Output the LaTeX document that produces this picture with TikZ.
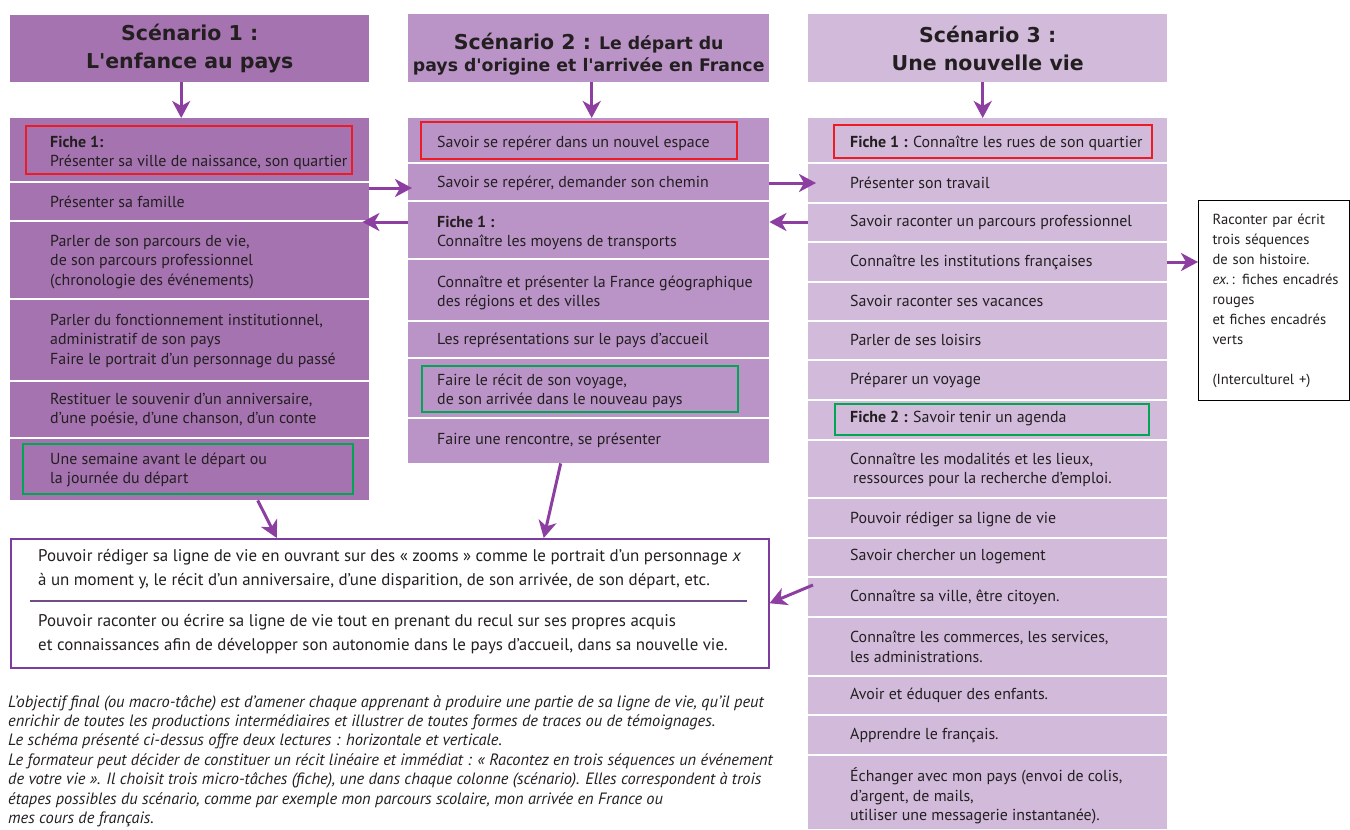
\documentclass[tikz,border=0pt]{standalone}
\usepackage{fontspec}
\setmainfont{PT Sans}
\newfontfamily\titlefont{DejaVu Sans}
\usetikzlibrary{positioning,arrows.meta}

\definecolor{colA}{HTML}{A573B0}
\definecolor{colB}{HTML}{BA94C7}
\definecolor{colC}{HTML}{D2BADB}
\definecolor{arrowpurple}{HTML}{8C3FA0}
\definecolor{framered}{HTML}{ED1C24}
\definecolor{framegreen}{HTML}{00A651}
\definecolor{boxpurple}{HTML}{7D3C9E}
\definecolor{dividergray}{HTML}{6E4D8A}
\definecolor{txtgray}{HTML}{231F20}

\begin{document}
\begin{tikzpicture}[x=1pt,y=-1pt,
  headbox/.style={anchor=north west,inner sep=0pt,align=center,text=txtgray,font=\titlefont\bfseries\fontsize{20.5}{28}\selectfont},
  colbody/.style={anchor=north west,inner sep=0pt},
  txt/.style={anchor=west,align=left,inner sep=0pt,text=txtgray,font=\fontsize{15.9}{19.5}\selectfont},
  rowsep/.style={white,line width=1.8pt},
  arr/.style={arrowpurple,line width=3pt,-{Stealth[length=17pt,width=18pt,inset=5pt]}},
  redbox/.style={draw=framered,line width=1.3pt},
  greenbox/.style={draw=framegreen,line width=1.3pt}]

\useasboundingbox (0,0) rectangle (1350,830);

% headers
\node[headbox,fill=colA,minimum width=359,minimum height=67] (h1) at (10,15) {Scénario 1 :\\L'enfance au pays};
\node[headbox,fill=colB,minimum width=361,minimum height=68,font=\titlefont\bfseries\fontsize{17.3}{22}\selectfont] (h2) at (408,14)
  {\rule{0pt}{28pt}{\fontsize{20.5}{22}\selectfont Scénario 2 :} Le départ du\\pays d'origine et l'arrivée en France};
\node[headbox,fill=colC,minimum width=359,minimum height=68] (h3) at (808,14) {Scénario 3 :\\Une nouvelle vie};

% columns
\node[colbody,fill=colA,minimum width=359,minimum height=382] (b1) at (10,118) {};
\node[colbody,fill=colB,minimum width=361,minimum height=345] (b2) at (408,118) {};
\node[colbody,fill=colC,minimum width=359,minimum height=711] (b3) at (808,118) {};

\foreach \y in {182,221,299,381,438}
  \draw[rowsep] (10,\y) -- (369,\y);
\foreach \y in {163,201,259,321,358,418}
  \draw[rowsep] (408,\y) -- (769,\y);
\foreach \y in {163,203,242,282,321,360,400,440,498,538,577,617,676,715,755}
  \draw[rowsep] (808,\y) -- (1167,\y);

% fiches
\draw[redbox] (26,126) rectangle (352,174);
\draw[greenbox] (23,444) rectangle (353,494);
\draw[redbox] (421,122) rectangle (737,159);
\draw[greenbox] (422,366) rectangle (738,412);
\draw[redbox] (834,125) rectangle (1152,158);
\draw[greenbox] (835,404) rectangle (1149,435);

% scenario 1
\node[txt] (t11) at (50,153) {\textbf{Fiche 1:}\\Présenter sa ville de naissance, son quartier};
\node[txt] (t12) at (50,202) {Présenter sa famille};
\node[txt] (t13) at (50,262) {Parler de son parcours de vie,\\de son parcours professionnel\\(chronologie des événements)};
\node[txt] (t14) at (50,341) {Parler du fonctionnement institutionnel,\\administratif de son pays\\Faire le portrait d’un personnage du passé};
\node[txt] (t15) at (50,410) {Restituer le souvenir d’un anniversaire,\\d’une poésie, d’une chanson, d’un conte};
\node[txt] (t16) at (50,470) {Une semaine avant le départ ou\\la journée du départ};

% scenario 2
\node[txt] (t21) at (437,143) {Savoir se repérer dans un nouvel espace};
\node[txt] (t22) at (437,183) {Savoir se repérer, demander son chemin};
\node[txt] (t23) at (437,233) {\textbf{Fiche 1 :}\\Connaître les moyens de transports};
\node[txt] (t24) at (437,293) {Connaître et présenter la France géographique\\des régions et des villes};
\node[txt] (t25) at (437,340) {Les représentations sur le pays d’accueil};
\node[txt] (t26) at (437,391) {Faire le récit de son voyage,\\de son arrivée dans le nouveau pays};
\node[txt] (t27) at (437,440) {Faire une rencontre, se présenter};

% scenario 3
\node[txt] (t31) at (850,143) {\textbf{Fiche 1 :} Connaître les rues de son quartier};
\foreach \n/\y/\s in {{2/183/Présenter son travail},{3/222/Savoir raconter un parcours professionnel},
    {4/262/Connaître les institutions françaises},{5/301/Savoir raconter ses vacances},
    {6/340/Parler de ses loisirs},{7/380/Préparer un voyage},
    {10/519/Pouvoir rédiger sa ligne de vie},{11/557/Savoir chercher un logement},
    {12/597/Connaître sa ville, être citoyen.},{14/695/Avoir et éduquer des enfants.},
    {15/735/Apprendre le français.}}
  \node[txt] (t3\n) at (850,\y) {\s};
\node[txt] (t38) at (850,419) {\textbf{Fiche 2 :} Savoir tenir un agenda};
\node[txt] (t39) at (850,470) {Connaître les modalités et les lieux,\\\hspace*{3pt}ressources pour la recherche d’emploi.};
\node[txt] (t313) at (850,647) {Connaître les commerces, les services,\\les administrations.};
\node[txt] (t316) at (850,796) {Échanger avec mon pays (envoi de colis,\\d’argent, de mails,\\utiliser une messagerie instantanée).};

% right box
\node[draw,line width=1pt,anchor=north west,minimum width=151,minimum height=200,inner xsep=14pt,text width=123pt,
  align=left,text=txtgray,font=\fontsize{14.6}{20}\selectfont] (rb) at (1198,200)
  {Raconter par écrit\\trois séquences\\de son histoire.\\\mbox{\textit{ex.}\,: fiches encadrés}\\rouges\\et fiches encadrés\\verts\\[20pt](Interculturel +)};

% final task
\node[draw=boxpurple,line width=1.5pt,anchor=north west,minimum width=758,minimum height=129] (obj) at (10,538) {};
\node[txt,font=\fontsize{16.9}{23.5}\selectfont] (o1) at (38,569)
  {Pouvoir rédiger sa ligne de vie en ouvrant sur des « zooms » comme le portrait d’un personnage \textit{x}\\à un moment y, le récit d’un anniversaire, d’une disparition, de son arrivée, de son départ, etc.};
\node[txt,font=\fontsize{16.9}{23.5}\selectfont] (o2) at (38,634)
  {Pouvoir raconter ou écrire sa ligne de vie tout en prenant du recul sur ses propres acquis\\et connaissances afin de développer son autonomie dans le pays d’accueil, dans sa nouvelle vie.};
\draw[dividergray,line width=1.5pt] ([xshift=20pt,yshift=2.5pt]obj.west) -- ([xshift=-23pt,yshift=2.5pt]obj.east);

% note
\node[txt,font=\itshape\fontsize{16.4}{19.4}\selectfont] (note) at (8,761)
  {L’objectif final (ou macro-tâche) est d’amener chaque apprenant à produire une partie de sa ligne de vie, qu’il peut\\
   enrichir de toutes les productions intermédiaires et illustrer de toutes formes de traces ou de témoignages.\\
   Le schéma présenté ci-dessus offre deux lectures : horizontale et verticale.\\
   Le formateur peut décider de constituer un récit linéaire et immédiat : « Racontez en trois séquences un événement\\
   de votre vie ». Il choisit trois micro-tâches (fiche), une dans chaque colonne (scénario). Elles correspondent à trois\\
   étapes possibles du scénario, comme par exemple mon parcours scolaire, mon arrivée en France ou\\
   mes cours de français.};

% arrows
\draw[arr] ([xshift=-8.5pt]h1.south) -- ([xshift=-8.5pt]b1.north);
\draw[arr] ([xshift=3pt]h2.south) -- ([xshift=3pt]b2.north);
\draw[arr] ([xshift=-5pt]h3.south) -- ([xshift=-5pt]b3.north);

\draw[arr,shorten >=-4pt] ([yshift=-5pt]b1.east |- t22) -- ([yshift=-5pt]b2.west |- t22);
\draw[arr,shorten >=-7pt] (b2.west |- t33) -- (b1.east |- t33);
\draw[arr,shorten >=-8pt] (b2.east |- t32) -- (b3.west |- t32);
\draw[arr] (b3.west |- t33) -- (b2.east |- t33);
\draw[arr] (b3.east |- t34) -- (rb.west |- t34);

\draw[arr] ([xshift=68pt]b1.south) -- ([xshift=-113pt]obj.north);
\draw[arr] ([xshift=-28pt]b2.south) -- ([xshift=154pt]obj.north);
\draw[arr] ([xshift=5pt,yshift=12pt]b3.west |- t312) -- (obj.east);

\end{tikzpicture}
\end{document}
